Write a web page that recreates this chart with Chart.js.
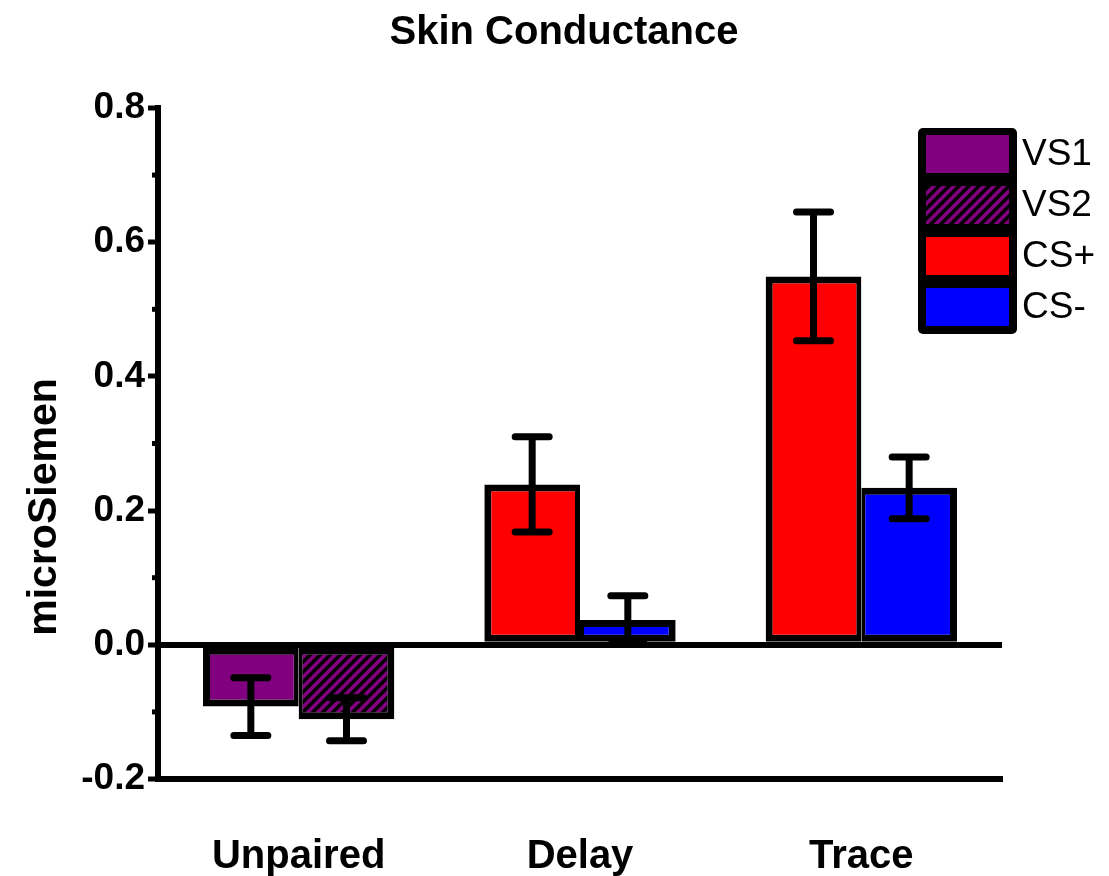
<!DOCTYPE html>
<html>
<head>
<meta charset="utf-8">
<script src="https://cdn.jsdelivr.net/npm/chart.js@4/dist/chart.umd.min.js"></script>
<style>
  html, body { margin: 0; padding: 0; background: #ffffff; }
  #wrap { width: 1109px; height: 876px; position: relative; }
</style>
</head>
<body>
<div id="wrap"><canvas id="c" width="1109" height="876"></canvas></div>
<script>
// ---- data ----
const categories = ['Unpaired', 'Delay', 'Trace'];
const seriesNames = ['VS1', 'VS2', 'CS+', 'CS-'];
const vs1Values = [-0.092, null, null];
const vs2Values = [-0.111, null, null];
const csPlusValues = [null, 0.239, 0.549];
const csMinusValues = [null, 0.037, 0.234];
const vs1Errors = [0.043, null, null];
const vs2Errors = [0.032, null, null];
const csPlusErrors = [null, 0.071, 0.096];
const csMinusErrors = [null, 0.036, 0.046];
const yMin = -0.2, yMax = 0.8, yStep = 0.1;
const titleText = 'Skin Conductance';
const yTitleText = 'microSiemen';

// ---- styles ----
const FONT = "'Liberation Sans', Arial, sans-serif";
const PURPLE = '#800080';

function hatchPattern() {
  const s = 10;
  const pc = document.createElement('canvas');
  pc.width = s; pc.height = s;
  const g = pc.getContext('2d');
  g.fillStyle = '#000000';
  g.fillRect(0, 0, s, s);
  g.strokeStyle = PURPLE;
  g.lineWidth = 3.6;
  g.beginPath();
  for (let k = -1; k <= 1; k++) {
    g.moveTo(k * s - 1, s + 1);
    g.lineTo(k * s + s + 1, -1);
  }
  g.stroke();
  return g.createPattern(pc, 'repeat');
}
const hatch = hatchPattern();

const leftBorder = { top: 7, bottom: 7, left: 7, right: 5 };
const rightBorder = { top: 7, bottom: 7, left: 4, right: 7 };

const errorsByDataset = [vs1Errors, vs2Errors, csPlusErrors, csMinusErrors];

const errorBarPlugin = {
  id: 'errorBars',
  afterDatasetsDraw(chart) {
    const ctx = chart.ctx;
    const yScale = chart.scales.y;
    ctx.save();
    ctx.strokeStyle = '#000000';
    ctx.lineWidth = 7;
    ctx.lineCap = 'round';
    chart.data.datasets.forEach((ds, di) => {
      const meta = chart.getDatasetMeta(di);
      const errs = errorsByDataset[di];
      meta.data.forEach((bar, i) => {
        const v = ds.data[i];
        if (v === null || errs[i] === null) return;
        const x = bar.x;
        const yTop = yScale.getPixelForValue(v + errs[i]);
        const yBot = yScale.getPixelForValue(v - errs[i]);
        const cap = 17;
        ctx.beginPath();
        ctx.moveTo(x, yTop); ctx.lineTo(x, yBot);
        ctx.moveTo(x - cap, yTop); ctx.lineTo(x + cap, yTop);
        ctx.moveTo(x - cap, yBot); ctx.lineTo(x + cap, yBot);
        ctx.stroke();
      });
    });
    ctx.restore();
  }
};

const decorPlugin = {
  id: 'decor',
  afterDraw(chart) {
    const ctx = chart.ctx;
    const yScale = chart.scales.y;
    const area = chart.chartArea;
    ctx.save();
    // minor ticks
    ctx.strokeStyle = '#000000';
    ctx.lineWidth = 5;
    yScale.ticks.forEach(t => {
      const r = Math.round(t.value * 10);
      if (r % 2 !== 0) {
        const y = yScale.getPixelForValue(t.value);
        ctx.beginPath();
        ctx.moveTo(area.left - 6, y);
        ctx.lineTo(area.left, y);
        ctx.stroke();
      }
    });
    // chart title
    ctx.fillStyle = '#000000';
    ctx.font = 'bold 40px ' + FONT;
    ctx.textAlign = 'center';
    ctx.textBaseline = 'middle';
    ctx.fillText(titleText, 564, 33);
    // y axis title
    ctx.font = 'bold 41px ' + FONT;
    ctx.translate(45, 507);
    ctx.rotate(-Math.PI / 2);
    ctx.fillText(yTitleText, 0, 0);
    ctx.restore();

    // legend
    ctx.save();
    const lx = 918, ly = 128, lw = 99, rowH = 51, n = chart.data.datasets.length;
    const lh = rowH * n + 2;
    ctx.fillStyle = '#000000';
    ctx.beginPath();
    ctx.roundRect(lx, ly, lw, lh, 5);
    ctx.fill();
    chart.data.datasets.forEach((ds, i) => {
      const top = ly + 7 + i * rowH;
      ctx.fillStyle = ds.backgroundColor;
      ctx.fillRect(lx + 8, top, lw - 16, 38);
      ctx.fillStyle = '#000000';
      ctx.font = '37px ' + FONT;
      ctx.textAlign = 'left';
      ctx.textBaseline = 'middle';
      ctx.fillText(ds.label, lx + lw + 5, top + 20);
    });
    ctx.restore();
  }
};

new Chart(document.getElementById('c'), {
  type: 'bar',
  data: {
    labels: categories,
    datasets: [
      { label: seriesNames[0], data: vs1Values, backgroundColor: PURPLE, borderColor: '#000', borderWidth: leftBorder },
      { label: seriesNames[1], data: vs2Values, backgroundColor: hatch, borderColor: '#000', borderWidth: rightBorder },
      { label: seriesNames[2], data: csPlusValues, backgroundColor: '#ff0000', borderColor: '#000', borderWidth: leftBorder },
      { label: seriesNames[3], data: csMinusValues, backgroundColor: '#0000ff', borderColor: '#000', borderWidth: rightBorder }
    ]
  },
  options: {
    responsive: false,
    animation: false,
    devicePixelRatio: 1,
    layout: { padding: { left: 0, right: 107, top: 108, bottom: 0 } },
    datasets: {
      bar: {
        skipNull: true,
        categoryPercentage: 0.68,
        barPercentage: 1.0,
        borderSkipped: false,
        borderRadius: 0,
        inflateAmount: 0
      }
    },
    plugins: {
      legend: { display: false },
      tooltip: { enabled: false },
      title: { display: false }
    },
    scales: {
      x: {
        grid: { display: false, drawTicks: false },
        border: { display: true, color: '#000', width: 6 },
        ticks: {
          color: '#000',
          padding: 54,
          font: { family: FONT, size: 40, weight: 'bold' }
        },
        afterFit(scale) { scale.height = 97; }
      },
      y: {
        min: yMin,
        max: yMax,
        border: { display: true, color: '#000', width: 6 },
        grid: {
          drawOnChartArea: true,
          color: ctx => (ctx.tick && Math.round(ctx.tick.value * 10) === 0) ? '#000' : 'rgba(0,0,0,0)',
          lineWidth: ctx => (ctx.tick && Math.round(ctx.tick.value * 10) === 0) ? 6 : 0,
          tickColor: ctx => (ctx.tick && Math.round(ctx.tick.value * 10) % 2 === 0) ? '#000' : 'rgba(0,0,0,0)',
          tickWidth: 5,
          tickLength: 10
        },
        ticks: {
          stepSize: yStep,
          color: '#000',
          padding: 3,
          font: { family: FONT, size: 37, weight: 'bold' },
          callback: v => (Math.round(v * 10) % 2 === 0) ? v.toFixed(1) : ''
        },
        afterFit(scale) { scale.width = 158; }
      }
    }
  },
  plugins: [errorBarPlugin, decorPlugin]
});
</script>
</body>
</html>
